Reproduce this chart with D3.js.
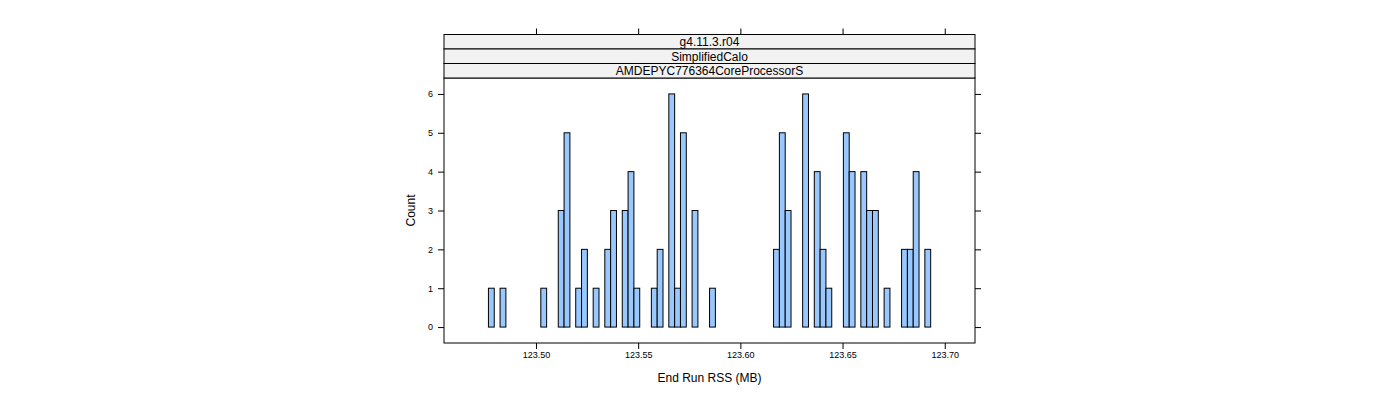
<!DOCTYPE html>
<html><head><meta charset="utf-8">
<script src="https://cdn.jsdelivr.net/npm/d3@7"></script>
<style>body{margin:0;background:#fff;font-family:"Liberation Sans",Arial,sans-serif}</style>
</head><body><div class="graph"></div>
<script>
var binStart = 123.4682;
var binWidth = 0.002847;
var counts = [0,0,0,1,0,1,0,0,0,0, 0,0,1,0,0,3,5,0,1,2,
              0,1,0,2,3,0,3,4,1,0, 0,1,2,0,6,1,5,0,3,0,
              0,1,0,0,0,0,0,0,0,0, 0,0,2,5,3,0,0,6,0,4,
              2,1,0,0,5,4,0,4,3,3, 0,1,0,0,2,2,4,0,2,0, 0,0];
var xTicks = [123.50, 123.55, 123.60, 123.65, 123.70];
var yTicks = [0, 1, 2, 3, 4, 5, 6];
var strips = ["g4.11.3.r04", "SimplifiedCalo", "AMDEPYC776364CoreProcessorS"];

var svg = d3.select(".graph").append("svg").attr("width", 1400).attr("height", 400);
var pLeft = 444, pRight = 975, pTop = 78, pBottom = 343;

var x = d3.scaleLinear().domain([123.455, 123.7148]).range([pLeft, pRight]);
var y = d3.scaleLinear().domain([-0.41, 6.41]).range([pBottom, pTop]);

var bins = counts.map(function(c, i) { return {x0: binStart + i * binWidth, x1: binStart + (i + 1) * binWidth, n: c}; });

svg.selectAll("rect.bar").data(bins).enter().append("rect")
  .attr("class", "bar")
  .attr("x", function(d) { return x(d.x0); })
  .attr("width", function(d) { return x(d.x1) - x(d.x0); })
  .attr("y", function(d) { return y(d.n); })
  .attr("height", function(d) { return y(0) - y(d.n); })
  .attr("fill", "#99c8ff").attr("stroke", "#000").attr("stroke-width", 1);

// panel box
svg.append("rect").attr("x", pLeft).attr("y", pTop).attr("width", pRight - pLeft).attr("height", pBottom - pTop)
  .attr("fill", "none").attr("stroke", "#000");

// strips
var sh = 14.5;
strips.forEach(function(s, i) {
  var sy = pTop - (strips.length - i) * sh;
  svg.append("rect").attr("x", pLeft).attr("y", sy).attr("width", pRight - pLeft).attr("height", sh)
    .attr("fill", "#f2f2f2").attr("stroke", "#000");
  svg.append("text").attr("x", (pLeft + pRight) / 2).attr("y", sy + sh / 2 + 4.5)
    .attr("text-anchor", "middle").attr("font-size", 12).text(s);
});
var stripTop = pTop - strips.length * sh;

// axes
var fmt = d3.format(".2f");
svg.append("g").attr("transform", "translate(0," + pBottom + ")")
  .call(d3.axisBottom(x).tickValues(xTicks).tickFormat(fmt).tickSize(6).tickPadding(3));
svg.append("g").attr("transform", "translate(0," + stripTop + ")")
  .call(d3.axisTop(x).tickValues(xTicks).tickFormat("").tickSize(6));
svg.append("g").attr("transform", "translate(" + pLeft + ",0)")
  .call(d3.axisLeft(y).tickValues(yTicks).tickFormat(d3.format("d")).tickSize(6).tickPadding(5));
svg.append("g").attr("transform", "translate(" + pRight + ",0)")
  .call(d3.axisRight(y).tickValues(yTicks).tickFormat("").tickSize(6));
svg.selectAll(".domain").remove();
svg.selectAll(".tick text").attr("font-size", 9).attr("font-family", "Liberation Sans, Arial, sans-serif").attr("fill", "#000");
svg.selectAll(".tick line").attr("stroke", "#000");

svg.append("text").attr("x", (pLeft + pRight) / 2).attr("y", 382).attr("text-anchor", "middle")
  .attr("font-size", 12).text("End Run RSS (MB)");
svg.append("text").attr("transform", "translate(415," + (pTop + pBottom) / 2 + ") rotate(-90)")
  .attr("text-anchor", "middle").attr("font-size", 12).text("Count");
</script></body></html>
